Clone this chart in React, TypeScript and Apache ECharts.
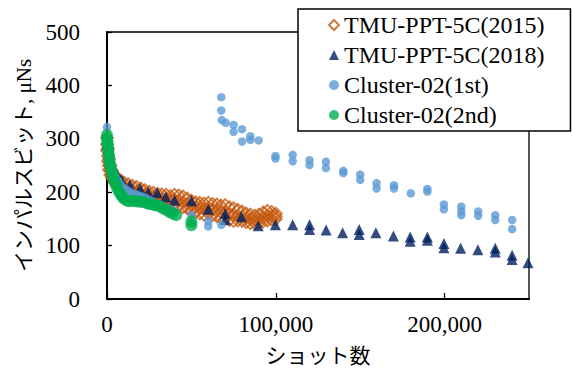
import React, { useEffect, useRef } from 'react';
import * as echarts from 'echarts';

const FONT = '"Liberation Serif", "Times New Roman", "Noto Sans CJK JP", serif';

const seriesNames = ['TMU-PPT-5C(2015)', 'TMU-PPT-5C(2018)', 'Cluster-02(1st)', 'Cluster-02(2nd)'];
const xTitle = 'ショット数';
const yTitle = 'インパルスビット, μNs';

// TMU-PPT-5C(2015) [shots, impulse bit]
const tmu2015: [number, number][] = [
  [0, 302], [0, 290], [0, 278], [600, 282], [600, 268], [600, 258], [1200, 262], [1200, 250], [1200, 242],
  [2000, 250], [2000, 240], [2000, 232], [3000, 240], [3000, 232], [3000, 226], [4500, 232], [4500, 224], [4500, 218],
  [6000, 226], [6000, 218], [6000, 212], [8000, 222], [8000, 214], [8000, 208], [10000, 218], [10000, 210], [10000, 204],
  [12500, 215], [12500, 207], [12500, 200], [15000, 212], [15000, 204], [15000, 197], [17500, 210], [17500, 201], [17500, 194],
  [20000, 207], [20000, 198], [20000, 191], [22500, 204], [22500, 196], [22500, 188], [25000, 201], [25000, 193], [25000, 186],
  [27500, 199], [27500, 191], [27500, 184], [30000, 197], [30000, 189], [30000, 182], [32500, 196], [32500, 187], [32500, 180],
  [35000, 195], [35000, 186], [35000, 179], [37500, 193], [37500, 185], [37500, 178], [40000, 195], [40000, 186], [40000, 178],
  [42500, 194], [42500, 184], [42500, 175], [45000, 192], [45000, 181], [45000, 172], [47500, 188], [47500, 178], [47500, 170],
  [50000, 184], [50000, 175], [50000, 166], [52500, 181], [52500, 172], [52500, 163], [55000, 180], [55000, 170], [55000, 160],
  [57500, 179], [57500, 168], [57500, 158], [60000, 180], [60000, 170], [60000, 160], [62500, 178], [62500, 167], [62500, 157],
  [65000, 177], [65000, 165], [65000, 155], [67500, 175], [67500, 163], [67500, 152], [70000, 176], [70000, 163], [70000, 150],
  [72500, 172], [72500, 160], [72500, 148], [75000, 170], [75000, 158], [75000, 146], [77500, 167], [77500, 156], [77500, 147],
  [80000, 164], [80000, 155], [80000, 146], [82500, 160], [82500, 152], [82500, 144], [85000, 158], [85000, 150], [85000, 142],
  [87500, 156], [87500, 148], [87500, 142], [90000, 158], [90000, 150], [90000, 143], [92500, 162], [92500, 153], [92500, 145],
  [95000, 165], [95000, 156], [95000, 147], [97500, 163], [97500, 156], [97500, 149], [100000, 160], [100000, 155], [100000, 150],
];

// TMU-PPT-5C(2018)
const tmu2018: [number, number][] = [
  [0, 300], [0, 290], [500, 280], [1000, 265], [1800, 254], [3000, 245], [5700, 235], [8700, 223],
  [13600, 213], [19500, 207], [24400, 200], [29700, 199], [34800, 191], [40000, 185], [50000, 184],
  [60000, 168], [70000, 160], [70000, 149], [79600, 154], [89600, 137], [99800, 139], [110000, 139],
  [120000, 139], [120000, 130], [129800, 129], [139600, 124], [149400, 130], [149400, 121], [159300, 124],
  [169700, 118], [179600, 116], [179600, 108], [189800, 116], [189800, 110], [199600, 104], [199600, 96],
  [209500, 95], [219700, 92], [230000, 95], [230000, 88], [240000, 82], [240000, 74], [249400, 68],
];

// Cluster-02(1st)
const cluster1st: [number, number][] = [
  [0, 322], [500, 295], [1000, 280], [1500, 268], [2000, 258], [3000, 248], [4000, 238], [5000, 230],
  [6500, 222], [8000, 215], [10000, 208], [12000, 204], [14000, 200], [16000, 197], [18000, 195],
  [20000, 193], [22500, 190], [25000, 186], [27500, 182], [30000, 178], [32500, 175], [35000, 171],
  [37500, 168], [40000, 165], [50000, 157], [50000, 142], [60000, 146], [60000, 136], [67700, 139],
  [67700, 378], [67700, 353], [68000, 335], [70300, 330], [75000, 326], [75000, 313], [80000, 318],
  [80000, 295], [84900, 305], [84900, 298], [89800, 297], [99800, 268], [99800, 263], [110000, 270],
  [110000, 258], [120000, 260], [120000, 251], [129700, 257], [129700, 245], [140000, 240], [140000, 236],
  [150000, 233], [150000, 223], [159700, 217], [159700, 207], [170000, 213], [170000, 207], [180000, 198],
  [189800, 206], [189800, 201], [199600, 177], [199600, 168], [209900, 173], [209900, 164], [209900, 157],
  [219900, 164], [219900, 156], [230000, 157], [230000, 148], [240000, 148], [240000, 131],
];

// Cluster-02(2nd)
const cluster2nd: [number, number][] = [
  [0, 307], [0, 300], [200, 296], [400, 290], [600, 285], [800, 278], [1000, 272], [1300, 265],
  [1600, 258], [2000, 250], [2500, 243], [3000, 236], [3500, 230], [4000, 224], [5000, 216], [6000, 208],
  [7000, 202], [8000, 196], [9000, 192], [10000, 188], [11500, 185], [13000, 183], [15000, 184],
  [17000, 183], [19000, 182], [21000, 182], [23000, 180], [25000, 178], [27000, 177], [29000, 175],
  [31000, 174], [33000, 170], [35000, 167], [37000, 163], [39000, 160], [41000, 157], [50000, 145], [50000, 138],
];

const xTicks = [0, 100000, 200000];
const yTicks = [0, 100, 200, 300, 400, 500];

export default function App() {
  const ref = useRef<HTMLDivElement>(null);
  useEffect(() => {
    const chart = echarts.init(ref.current!, null, { renderer: 'svg' });
    chart.setOption({
      animation: false,
      backgroundColor: '#fff',
      textStyle: { fontFamily: FONT },
      grid: {
        left: 107, top: 32, right: 43, bottom: 81,
        show: true, borderColor: '#000', borderWidth: 1.3, backgroundColor: 'transparent',
      },
      legend: {
        orient: 'vertical',
        left: 298, top: 9,
        padding: [4, 26, 4, 30],
        itemGap: 6,
        itemWidth: 10, itemHeight: 10,
        itemTextGap: 6,
        backgroundColor: '#fff',
        borderColor: '#000', borderWidth: 1.5,
        textStyle: { fontFamily: FONT, fontSize: 24, color: '#000', lineHeight: 24 },
        data: seriesNames,
      },
      xAxis: {
        type: 'value', min: 0, max: 250000, interval: 100000,
        name: xTitle, nameLocation: 'middle', nameGap: 46,
        nameTextStyle: { fontFamily: FONT, fontSize: 21, color: '#000' },
        axisLine: { lineStyle: { color: '#000', width: 2 } },
        axisTick: { inside: true, length: 6, lineStyle: { color: '#000', width: 1.3 } },
        axisLabel: {
          showMaxLabel: false,
          margin: 14, fontFamily: FONT, fontSize: 23, color: '#000',
          formatter: (v: number) => (xTicks.includes(v) ? v.toLocaleString('en-US') : ''),
        },
        splitLine: { show: false },
      },
      yAxis: {
        type: 'value', min: 0, max: 500, interval: 100,
        name: yTitle, nameLocation: 'middle', nameGap: 73,
        nameTextStyle: { fontFamily: FONT, fontSize: 21, color: '#000' },
        axisLine: { show: true, lineStyle: { color: '#000', width: 2 } },
        axisTick: { show: true, inside: true, length: 5, lineStyle: { color: '#000', width: 1.3 } },
        axisLabel: {
          margin: 27, fontFamily: FONT, fontSize: 23, color: '#000',
          formatter: (v: number) => (yTicks.includes(v) ? String(v) : ''),
        },
        splitLine: { show: false },
      },
      series: [
        {
          name: seriesNames[0], type: 'scatter', data: tmu2015, symbol: 'diamond', symbolSize: 12,
          itemStyle: { color: 'rgba(255,255,255,0)', borderColor: '#C55A11', borderWidth: 1.8 },
        },
        {
          name: seriesNames[1], type: 'scatter', data: tmu2018, symbol: 'triangle', symbolSize: 11,
          itemStyle: { color: '#002060' },
        },
        {
          name: seriesNames[2], type: 'scatter', data: cluster1st, symbol: 'circle', symbolSize: 8.5,
          itemStyle: { color: '#5B9BD5' },
        },
        {
          name: seriesNames[3], type: 'scatter', data: cluster2nd, symbol: 'circle', symbolSize: 12,
          itemStyle: { color: '#00B050' },
        },
      ],
    });
    return () => chart.dispose();
  }, []);
  return <div ref={ref} style={{ position: 'absolute', left: 0, top: 0, width: 572, height: 380 }} />;
}
